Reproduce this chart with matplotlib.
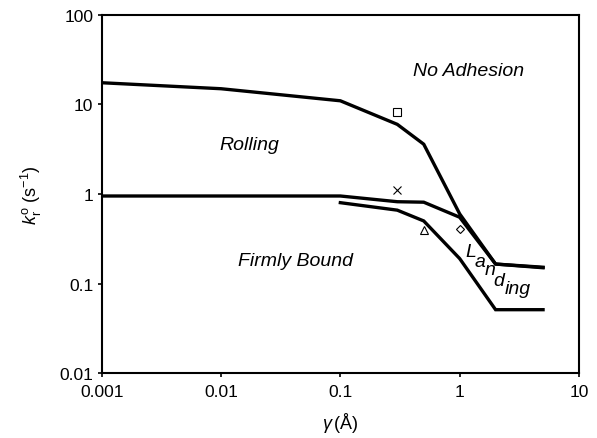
import matplotlib
matplotlib.use("Agg")
import matplotlib.pyplot as plt

plt.rcParams['font.family'] = ['Liberation Sans', 'DejaVu Sans']
plt.rcParams['mathtext.fontset'] = 'custom'
plt.rcParams['mathtext.rm'] = 'Liberation Sans'
plt.rcParams['mathtext.it'] = 'Liberation Sans:italic'

# boundary lines
top_x = [0.001, 0.01, 0.1, 0.3, 0.5, 1, 2, 5]
top_y = [17.5, 15, 11, 6.0, 3.6, 0.6, 0.165, 0.152]
mid_x = [0.001, 0.1, 0.3, 0.5, 1, 2, 5]
mid_y = [0.95, 0.95, 0.82, 0.81, 0.55, 0.165, 0.15]
low_x = [0.1, 0.3, 0.5, 1, 2, 5]
low_y = [0.8, 0.66, 0.5, 0.19, 0.051, 0.051]

# single points
pts_x = [0.3, 0.3, 0.5, 1.0]
pts_y = [8.2, 1.1, 0.40, 0.41]
pts_m = ['s', 'x', '^', 'D']

fig = plt.figure(figsize=(5.97, 4.39), dpi=100)
ax = fig.add_axes([0.1704, 0.148, 0.7994, 0.8156])

for xs, ys in [(top_x, top_y), (mid_x, mid_y), (low_x, low_y)]:
    ax.plot(xs, ys, color='black', lw=2.4, solid_joinstyle='miter')

for x, y, m in zip(pts_x, pts_y, pts_m):
    ax.plot(x, y, marker=m, ms=5.5 if m != 'D' else 4.5, mfc='none', mec='black', mew=0.8, ls='none')

ax.set_xscale('log')
ax.set_yscale('log')
ax.set_xlim(0.001, 10)
ax.set_ylim(0.01, 100)
ax.set_xticks([0.001, 0.01, 0.1, 1, 10])
ax.set_xticklabels(['0.001', '0.01', '0.1', '1', '10'])
ax.set_yticks([0.01, 0.1, 1, 10, 100])
ax.set_yticklabels(['0.01', '0.1', '1', '10', '100'])
ax.minorticks_off()
ax.tick_params(direction='out', length=3, width=1.2, labelsize=12.5)
ax.tick_params(axis='x', pad=5)
ax.tick_params(axis='y', pad=3)
for s in ax.spines.values():
    s.set_linewidth(1.5)

ax.set_xlabel(r'$\gamma\,$(Å)', fontsize=13, labelpad=8)
ax.set_ylabel(r'$k_{\rm r}^{\rm o}$ (s$^{-1}$)', fontsize=13, labelpad=11)

tkw = dict(transform=ax.transAxes, fontsize=14, style='italic', ha='center', va='center')
ax.text(0.768, 0.844, 'No Adhesion', **tkw)
ax.text(0.309, 0.637, 'Rolling', **tkw)
ax.text(0.405, 0.313, 'Firmly Bound', **tkw)

# "Landing" drawn letter by letter, stepping down along the curve
lkw = dict(transform=ax.transAxes, fontsize=14, style='italic', ha='left', va='baseline')
for ch, (fx, fy) in zip(['L', 'a', 'n', 'd', 'ing'],
                        [(0.763, 0.327), (0.782, 0.299), (0.803, 0.277), (0.820, 0.246), (0.845, 0.224)]):
    ax.text(fx, fy, ch, **lkw)

fig.savefig('out.png', dpi=100)
